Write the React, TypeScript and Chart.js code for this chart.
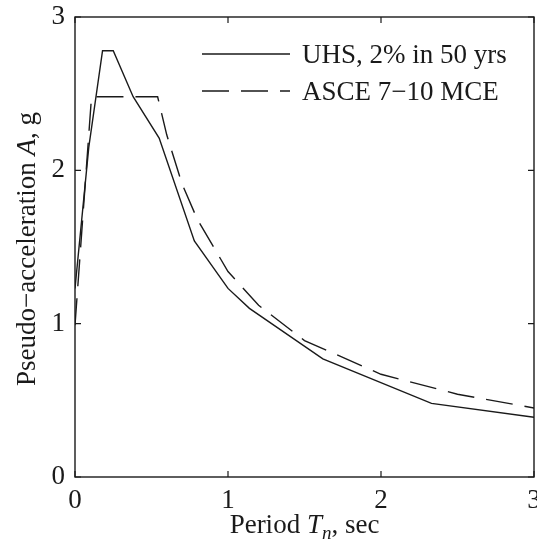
import React, { useEffect, useRef } from 'react';
import { Chart, registerables } from 'chart.js';

Chart.register(...registerables);

// UHS, 2% in 50 yrs (solid)
const uhsPeriod = [0, 0.09, 0.18, 0.25, 0.38, 0.55, 0.78, 1.0, 1.14, 1.62, 2.33, 3.0];
const uhsAccel = [1.23, 2.15, 2.78, 2.78, 2.48, 2.21, 1.54, 1.23, 1.1, 0.77, 0.48, 0.39];

// ASCE 7-10 MCE (dashed)
const ascePeriod = [0, 0.108, 0.54, 0.6, 0.7, 0.8, 1.0, 1.2, 1.5, 2.0, 2.5, 3.0];
const asceAccel = [0.99, 2.48, 2.48, 2.23, 1.91, 1.68, 1.34, 1.12, 0.89, 0.67, 0.54, 0.45];

const xTicks = [0, 1, 2, 3];
const yTicks = [0, 1, 2, 3];
const legendLabels = ['UHS, 2% in 50 yrs', 'ASCE 7\u221210 MCE'];

const SERIF = '"Liberation Serif", "Times New Roman", serif';
const FS = 27;
const INK = '#1a1a1a';
const DASH = [27, 12];

const decorPlugin = {
  id: 'decor',
  afterDraw(chart: any) {
    const ctx = chart.ctx as CanvasRenderingContext2D;
    const { left, right, top, bottom } = chart.chartArea;
    const xs = chart.scales.x;
    const ys = chart.scales.y;
    ctx.save();
    // frame
    ctx.strokeStyle = INK;
    ctx.lineWidth = 1.4;
    ctx.setLineDash([]);
    ctx.strokeRect(left, top, right - left, bottom - top);
    // inner ticks
    const tl = 6;
    ctx.lineWidth = 1.2;
    ctx.beginPath();
    xTicks.forEach((v) => {
      const px = xs.getPixelForValue(v);
      ctx.moveTo(px, bottom);
      ctx.lineTo(px, bottom - tl);
      ctx.moveTo(px, top);
      ctx.lineTo(px, top + tl);
    });
    yTicks.forEach((v) => {
      const py = ys.getPixelForValue(v);
      ctx.moveTo(left, py);
      ctx.lineTo(left + tl, py);
      ctx.moveTo(right, py);
      ctx.lineTo(right - tl, py);
    });
    ctx.stroke();

    // legend
    const lx0 = 202;
    const lx1 = 290;
    const rows = [
      { y: 54, dash: [] as number[], text: legendLabels[0], base: 63 },
      { y: 91, dash: DASH, text: legendLabels[1], base: 100 },
    ];
    ctx.fillStyle = INK;
    ctx.font = `${FS}px ${SERIF}`;
    ctx.textBaseline = 'alphabetic';
    ctx.textAlign = 'left';
    rows.forEach((r) => {
      ctx.lineWidth = 1.3;
      ctx.setLineDash(r.dash);
      ctx.beginPath();
      ctx.moveTo(lx0, r.y);
      ctx.lineTo(lx1, r.y);
      ctx.stroke();
      ctx.setLineDash([]);
      ctx.fillText(r.text, 302, r.base);
    });

    // x title: Period T_n, sec
    const normal = `${FS}px ${SERIF}`;
    const ital = `italic ${FS}px ${SERIF}`;
    const subf = `italic ${Math.round(FS * 0.7)}px ${SERIF}`;
    const parts = [
      { t: 'Period ', f: normal, dy: 0 },
      { t: 'T', f: ital, dy: 0 },
      { t: 'n', f: subf, dy: 6 },
      { t: ', sec', f: normal, dy: 0 },
    ];
    let total = 0;
    parts.forEach((p) => {
      ctx.font = p.f;
      total += ctx.measureText(p.t).width;
    });
    let cx = (left + right) / 2 - total / 2;
    const baseX = 533;
    parts.forEach((p) => {
      ctx.font = p.f;
      ctx.fillText(p.t, cx, baseX + p.dy);
      cx += ctx.measureText(p.t).width;
    });

    // y title: Pseudo-acceleration A, g
    const yparts = [
      { t: 'Pseudo\u2212acceleration ', f: normal },
      { t: 'A', f: ital },
      { t: ', g', f: normal },
    ];
    let ytotal = 0;
    yparts.forEach((p) => {
      ctx.font = p.f;
      ytotal += ctx.measureText(p.t).width;
    });
    ctx.translate(35, (top + bottom) / 2 + 2);
    ctx.rotate(-Math.PI / 2);
    let yx = -ytotal / 2;
    yparts.forEach((p) => {
      ctx.font = p.f;
      ctx.fillText(p.t, yx, 0);
      yx += ctx.measureText(p.t).width;
    });
    ctx.restore();
  },
};

export default function App() {
  const ref = useRef<HTMLCanvasElement | null>(null);
  useEffect(() => {
    document.body.style.margin = '0';
    const canvas = ref.current;
    if (!canvas) return;
    const chart = new Chart(canvas, {
      type: 'line',
      data: {
        datasets: [
          {
            label: legendLabels[0],
            data: uhsPeriod.map((x, i) => ({ x, y: uhsAccel[i] })),
            borderColor: INK,
            borderWidth: 1.4,
            pointRadius: 0,
            tension: 0,
            fill: false,
          },
          {
            label: legendLabels[1],
            data: ascePeriod.map((x, i) => ({ x, y: asceAccel[i] })),
            borderColor: INK,
            borderWidth: 1.4,
            borderDash: DASH,
            pointRadius: 0,
            tension: 0,
            fill: false,
          },
        ],
      },
      options: {
        animation: false,
        responsive: true,
        maintainAspectRatio: false,
        layout: { padding: { left: 0, right: 3, top: 17, bottom: 0 } },
        plugins: {
          legend: { display: false },
          tooltip: { enabled: false },
        },
        scales: {
          x: {
            type: 'linear',
            min: 0,
            max: 3,
            grid: { display: false, drawTicks: false },
            border: { display: false },
            ticks: {
              stepSize: 1,
              padding: 8,
              color: INK,
              font: { family: SERIF, size: FS },
              maxRotation: 0,
            },
            afterFit: (s: any) => {
              s.height = 75;
              s.paddingLeft = 0;
              s.paddingRight = 0;
            },
          },
          y: {
            type: 'linear',
            min: 0,
            max: 3,
            grid: { display: false, drawTicks: false },
            border: { display: false },
            ticks: {
              stepSize: 1,
              padding: 10,
              color: INK,
              font: { family: SERIF, size: FS },
            },
            afterFit: (s: any) => {
              s.width = 75;
              s.paddingTop = 0;
              s.paddingBottom = 0;
            },
          },
        },
      },
      plugins: [decorPlugin],
    });
    return () => chart.destroy();
  }, []);
  return (
    <div style={{ position: 'relative', width: 537, height: 552, background: '#fff' }}>
      <canvas ref={ref} />
    </div>
  );
}
